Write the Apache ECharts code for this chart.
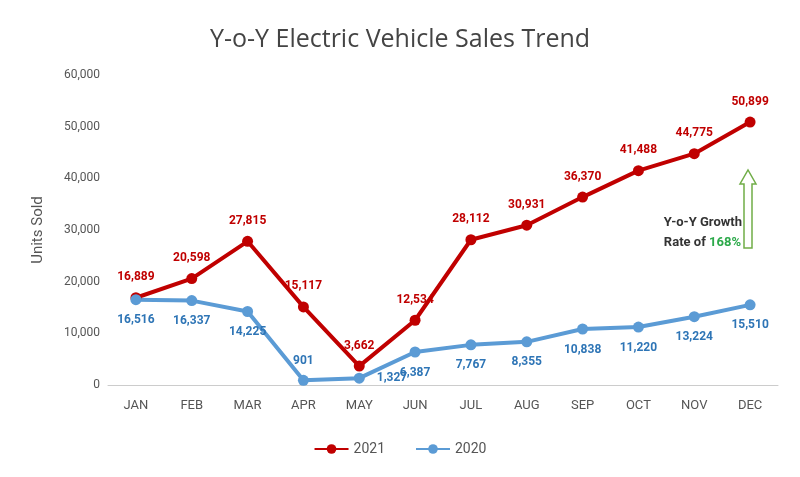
<!DOCTYPE html>
<html><head><meta charset="utf-8">
<script src="https://cdn.jsdelivr.net/npm/echarts@6/dist/echarts.min.js"></script>
<style>html,body{margin:0;padding:0;background:#fff}#c{width:800px;height:477px}</style>
</head><body><div id="c"></div>
<script>
const months=['JAN','FEB','MAR','APR','MAY','JUN','JUL','AUG','SEP','OCT','NOV','DEC'];
const sales2021=[16889,20598,27815,15117,3662,12534,28112,30931,36370,41488,44775,50899];
const sales2020=[16516,16337,14225,901,1327,6387,7767,8355,10838,11220,13224,15510];
const fmt=v=>v.toLocaleString('en-US');
const labelPos2020={3:{position:'top',distance:8},4:{position:'right',distance:12}};
const data2020=sales2020.map((v,i)=>labelPos2020[i]?{value:v,label:labelPos2020[i]}:v);
const chart=echarts.init(document.getElementById('c'));
chart.setOption({
  textStyle:{fontFamily:'Roboto, sans-serif'},
  title:{text:'Y-o-Y Electric Vehicle Sales Trend',left:'center',top:22,textStyle:{fontSize:25,fontWeight:'normal',color:'#444',fontFamily:'Open Sans, sans-serif'}},
  legend:{bottom:16,itemGap:30,data:['2021','2020'],textStyle:{fontSize:14,color:'#555'},itemWidth:34,itemHeight:12},
  grid:{left:108,right:22,top:75,bottom:92},
  xAxis:{type:'category',data:months,axisTick:{show:false},axisLine:{lineStyle:{color:'#ccc'}},axisLabel:{color:'#555',fontSize:13,margin:14}},
  yAxis:{type:'value',min:0,max:60000,interval:10000,name:'Units Sold',nameLocation:'middle',nameGap:62,nameTextStyle:{fontSize:15,color:'#555'},
    splitLine:{show:false},axisLabel:{color:'#555',fontSize:12,formatter:fmt}},
  series:[
    {name:'2021',type:'line',data:sales2021,color:'#c00000',symbol:'circle',symbolSize:11,lineStyle:{width:4},
     label:{show:true,position:'top',distance:9,color:'#c00000',fontWeight:'bold',fontSize:12,formatter:p=>fmt(p.value)}},
    {name:'2020',type:'line',data:data2020,color:'#5b9bd5',symbol:'circle',symbolSize:11,lineStyle:{width:4},
     label:{show:true,position:'bottom',distance:9,color:'#2e75b6',fontWeight:'bold',fontSize:12,formatter:p=>fmt(p.value)}}
  ],
  graphic:[
    {type:'text',right:58,top:213,style:{text:'Y-o-Y Growth\nRate of {g|168%}',align:'right',fill:'#333',font:'bold 13px Roboto, sans-serif',lineHeight:20,
      rich:{g:{fill:'#2ca94a',font:'bold 13px Roboto, sans-serif'}}}},
    {type:'polygon',shape:{points:[[744,248],[744,184],[740,184],[748,170],[756,184],[752,184],[752,248]]},style:{fill:'#fff',stroke:'#70ad47',lineWidth:1.5}}
  ]
});
</script></body></html>
